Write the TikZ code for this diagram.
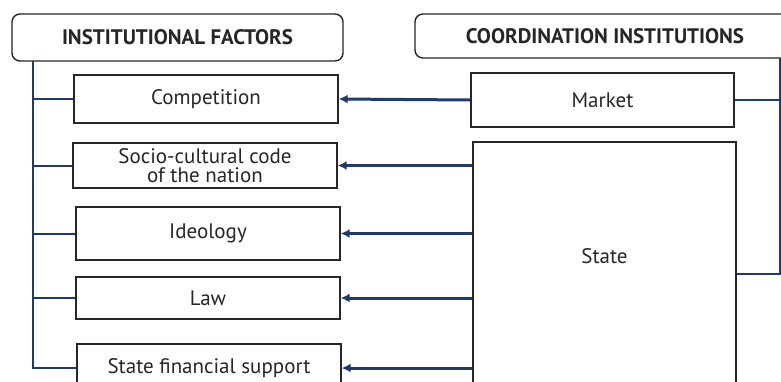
\documentclass[tikz,border=0pt]{standalone}
\usepackage{fontspec}
\setmainfont{PT Sans}
\usepackage{tikz}
\usetikzlibrary{arrows.meta,positioning,calc}

\definecolor{navy}{HTML}{1F3A6B}
\definecolor{boxline}{HTML}{262626}

\tikzset{
  box/.style={draw=boxline, line width=1.4pt, fill=white, inner sep=0pt,
    align=center, font=\fontsize{21}{19}\selectfont, text=boxline},
  headbox/.style={box, rounded corners=8pt, font=\fontsize{21}{19}\selectfont\bfseries},
  bus/.style={draw=navy, line width=2pt},
  link/.style={draw=navy, line width=3pt, -{Latex[length=9pt,width=9pt]}}
}

\begin{document}
\begin{tikzpicture}[x=1pt,y=-1pt]
  \clip (0,0) rectangle (781,381);
  \fill[white] (0,0) rectangle (781,381);
  % heads
  \node[headbox, minimum width=331, minimum height=47] (institut) at (177.5,37.5) {INSTITUTIONAL FACTORS};
  \node[headbox, minimum width=380, minimum height=44] (coord) at (605,36) {COORDINATION INSTITUTIONS};
  % factors
  \node[box, minimum width=264, minimum height=48] (competition) at (206,99) {Competition};
  \node[box, minimum width=264, minimum height=45] (socio) at (205,165.5) {Socio-cultural code\\of the nation};
  \node[box, minimum width=264, minimum height=53] (ideology) at (208,233.5) {Ideology};
  \node[box, minimum width=264, minimum height=42] (law) at (208,298) {Law};
  \node[box, minimum width=264, minimum height=48] (finsupport) at (209,368) {State financial support};
  % institutions
  \node[box, minimum width=263, minimum height=54] (market) at (602.5,100) {Market};
  \node[box, minimum width=263, minimum height=258, label={[font=\fontsize{21}{19}\selectfont, text=boxline, yshift=15pt]center:State}] (state) at (604.5,271) {};
  % left bus
  \coordinate (busL) at (33,61);
  \draw[bus] (busL) |- (finsupport.west);
  \foreach \f in {competition,socio,ideology,law}
    \draw[bus] (busL |- \f.west) -- (\f.west);
  % right bus
  \coordinate (busR) at (780,58);
  \draw[bus] (busR) |- (market.east);
  \draw[bus] (busR) |- ($(state.east)+(0,3)$);
  % arrows
  \draw[link] (market.west) -- (competition.east);
  \foreach \f in {socio,ideology,law,finsupport}
    \draw[link] (\f.east -| state.west) -- (\f.east);
\end{tikzpicture}
\end{document}
